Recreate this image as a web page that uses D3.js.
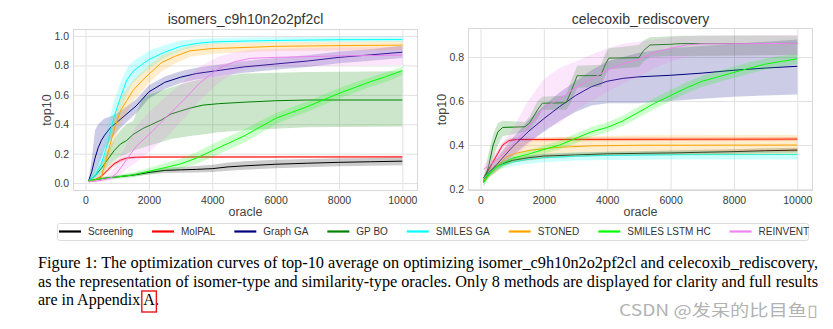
<!DOCTYPE html>
<html>
<head>
<meta charset="utf-8">
<script src="https://cdn.jsdelivr.net/npm/d3@7"></script>
<style>
  body { margin: 0; background: #fff; }
  svg { display: block; }
</style>
</head>
<body>
<svg id="fig" width="833" height="329"></svg>
<script>
// methods in plotting / legend order
var methods = ["Screening", "MolPAL", "Graph GA", "GP BO", "SMILES GA", "STONED", "SMILES LSTM HC", "REINVENT"]
var colors = ["black", "red", "navy", "green", "cyan", "orange", "lime", "violet"]

var oracleTicks = [0, 2000, 4000, 6000, 8000, 10000]
var isoTicks = [0.0, 0.2, 0.4, 0.6, 0.8, 1.0]
var celTicks = [0.2, 0.4, 0.6, 0.8]

// rows: [oracle calls, mean top10, lower, upper]
var isoScreening = [[100,.016,.010,.022],[500,.030,.022,.038],[1000,.042,.034,.050],[1500,.054,.044,.064],[2000,.072,.058,.086],[2500,.086,.068,.104],[3000,.090,.070,.110],[3500,.093,.072,.116],[4000,.098,.076,.124],[4500,.110,.084,.140],[5000,.117,.090,.148],[6000,.128,.100,.158],[7000,.135,.108,.164],[8000,.141,.114,.168],[9000,.145,.118,.171],[10000,.149,.122,.174]]
var isoMolpal = [[100,.016,.012,.020],[300,.022,.016,.028],[500,.045,.035,.056],[700,.090,.074,.106],[900,.130,.114,.146],[1100,.155,.141,.168],[1300,.170,.160,.180],[1600,.176,.168,.184],[2000,.177,.170,.185],[10000,.178,.171,.186]]
var isoGraphGA = [[100,.016,.010,.022],[200,.080,.040,.170],[300,.170,.080,.360],[400,.240,.120,.400],[500,.290,.170,.420],[600,.325,.230,.440],[800,.380,.300,.455],[1000,.415,.350,.475],[1300,.470,.415,.520],[1600,.525,.475,.570],[2000,.620,.575,.665],[2500,.685,.640,.725],[3000,.720,.680,.760],[3500,.745,.705,.785],[4000,.760,.720,.800],[5000,.790,.750,.830],[6000,.810,.770,.850],[7000,.830,.790,.870],[8000,.855,.815,.895],[9000,.872,.832,.910],[10000,.890,.850,.935]]
var isoGPBO = [[100,.016,.010,.022],[300,.050,.030,.080],[500,.100,.060,.150],[700,.160,.110,.220],[900,.220,.150,.300],[1100,.265,.180,.360],[1300,.290,.200,.400],[1500,.330,.220,.420],[1800,.370,.240,.580],[2100,.400,.260,.610],[2400,.430,.280,.630],[2700,.470,.300,.650],[3000,.490,.310,.670],[3300,.510,.320,.690],[3700,.530,.330,.710],[4200,.540,.345,.725],[5000,.550,.360,.745],[6000,.560,.370,.750],[7000,.565,.380,.755],[10000,.565,.385,.760]]
var isoSmilesGA = [[100,.016,.010,.022],[300,.050,.030,.100],[500,.130,.080,.220],[700,.270,.180,.380],[900,.450,.340,.560],[1100,.580,.480,.680],[1300,.700,.600,.780],[1500,.760,.680,.830],[1800,.810,.740,.870],[2000,.840,.780,.900],[2500,.890,.850,.940],[3000,.930,.900,.970],[3500,.950,.930,.980],[4000,.960,.945,.985],[5000,.966,.952,.990],[6000,.970,.956,.993],[8000,.975,.960,.995],[10000,.976,.962,.996]]
var isoStoned = [[100,.016,.010,.022],[300,.020,.012,.030],[500,.040,.025,.060],[700,.200,.130,.280],[900,.360,.280,.450],[1100,.490,.400,.570],[1300,.560,.480,.640],[1500,.630,.560,.700],[1800,.700,.630,.760],[2000,.740,.680,.800],[2400,.820,.760,.870],[2800,.860,.810,.900],[3300,.900,.860,.935],[4000,.915,.880,.950],[5000,.922,.890,.955],[6000,.930,.898,.960],[8000,.935,.902,.962],[10000,.938,.905,.965]]
var isoLSTM = [[100,.016,.010,.022],[500,.030,.020,.042],[1000,.042,.030,.056],[1500,.055,.040,.072],[2000,.080,.060,.102],[2500,.105,.080,.135],[3000,.130,.100,.165],[3500,.170,.130,.210],[4000,.220,.175,.265],[4500,.270,.225,.315],[5000,.320,.275,.365],[5500,.380,.335,.420],[6000,.440,.400,.475],[6500,.480,.445,.515],[7000,.520,.485,.555],[7500,.565,.530,.600],[8000,.610,.575,.645],[8500,.650,.615,.685],[9000,.690,.655,.720],[9500,.725,.690,.755],[10000,.765,.735,.790]]
var isoReinvent = [[100,.008,.004,.014],[500,.018,.008,.032],[800,.035,.018,.070],[1000,.070,.035,.140],[1300,.160,.095,.270],[1600,.250,.140,.390],[2100,.350,.230,.500],[2600,.460,.320,.600],[3100,.565,.440,.690],[3600,.680,.560,.790],[4200,.780,.680,.860],[4700,.825,.750,.890],[5200,.848,.780,.905],[6000,.855,.790,.912],[7000,.860,.795,.918],[8000,.865,.800,.922],[10000,.870,.805,.925]]

var celScreening = [[100,.240,.232,.248],[300,.275,.265,.285],[500,.305,.295,.315],[1000,.330,.320,.340],[1500,.342,.332,.352],[2000,.350,.340,.360],[3000,.355,.345,.365],[4000,.360,.350,.370],[5000,.362,.352,.372],[6000,.364,.354,.375],[7000,.367,.357,.378],[8000,.370,.360,.381],[9000,.374,.364,.385],[10000,.377,.367,.388]]
var celMolpal = [[100,.250,.240,.260],[300,.300,.288,.312],[500,.350,.338,.362],[700,.400,.390,.412],[900,.420,.412,.430],[1100,.425,.417,.434],[10000,.427,.419,.436]]
var celGraphGA = [[100,.250,.240,.260],[500,.310,.280,.340],[1000,.390,.350,.430],[1500,.460,.410,.510],[2000,.520,.460,.580],[2500,.575,.510,.640],[3000,.625,.550,.690],[3500,.665,.580,.740],[4000,.690,.590,.780],[4500,.703,.590,.800],[5000,.710,.590,.820],[6000,.717,.600,.840],[7000,.727,.610,.850],[8000,.740,.620,.860],[9000,.750,.625,.870],[10000,.758,.630,.880]]
var celGPBO = [[100,.230,.210,.250],[250,.300,.260,.360],[400,.400,.340,.450],[550,.460,.400,.500],[700,.480,.440,.510],[1400,.483,.460,.505],[1550,.500,.470,.530],[1800,.560,.520,.600],[1950,.590,.560,.620],[2700,.592,.560,.625],[2850,.640,.590,.690],[3050,.715,.660,.760],[3800,.716,.665,.765],[3950,.770,.720,.820],[4050,.795,.745,.840],[5000,.797,.755,.855],[5150,.830,.780,.875],[5350,.855,.800,.890],[6000,.858,.805,.895],[6300,.861,.805,.897],[10000,.862,.810,.898]]
var celSmilesGA = [[100,.250,.240,.260],[300,.275,.262,.288],[500,.300,.285,.315],[1000,.322,.305,.340],[1500,.335,.315,.352],[2000,.342,.322,.360],[3000,.350,.330,.368],[4000,.353,.332,.370],[6000,.356,.334,.372],[10000,.357,.334,.372]]
var celStoned = [[100,.240,.230,.250],[300,.270,.255,.290],[500,.300,.275,.330],[800,.345,.305,.390],[1100,.362,.320,.410],[1600,.377,.330,.425],[2500,.390,.345,.435],[3500,.396,.350,.440],[5000,.399,.354,.445],[10000,.400,.355,.446]]
var celLSTM = [[100,.230,.215,.245],[300,.270,.255,.285],[500,.300,.285,.315],[1000,.340,.325,.355],[1500,.358,.342,.374],[2000,.380,.362,.398],[2500,.400,.380,.420],[3000,.430,.408,.452],[3500,.460,.438,.482],[4000,.480,.458,.504],[4500,.510,.486,.534],[5000,.550,.525,.575],[5500,.590,.565,.615],[6000,.625,.600,.650],[6500,.660,.635,.685],[7000,.690,.665,.715],[7500,.710,.685,.737],[8000,.730,.705,.757],[8500,.750,.725,.777],[9000,.768,.743,.793],[9500,.780,.756,.806],[10000,.792,.768,.815]]
var celReinvent = [[100,.290,.270,.310],[500,.330,.300,.370],[1000,.400,.340,.470],[1500,.480,.400,.600],[2000,.570,.470,.700],[2500,.610,.500,.750],[3000,.660,.560,.780],[3500,.700,.600,.810],[4000,.740,.640,.840],[4500,.770,.680,.860],[5000,.790,.710,.870],[5500,.820,.750,.880],[6000,.840,.780,.890],[6500,.855,.800,.895],[7000,.860,.805,.898],[10000,.862,.810,.900]]

var captionLines = [
  "Figure 1: The optimization curves of top-10 average on optimizing isomer_c9h10n2o2pf2cl and celecoxib_rediscovery,",
  "as the representation of isomer-type and similarity-type oracles. Only 8 methods are displayed for clarity and full results"
]

var sans = "'Liberation Sans', Arial, Helvetica, sans-serif"
var svg = d3.select("#fig")

var panels = [
  {title: "isomers_c9h10n2o2pf2cl", series: [isoScreening, isoMolpal, isoGraphGA, isoGPBO, isoSmilesGA, isoStoned, isoLSTM, isoReinvent],
   left: 73, top: 29, yDomain: [-0.054, 1.048], yTicks: isoTicks},
  {title: "celecoxib_rediscovery", series: [celScreening, celMolpal, celGraphGA, celGPBO, celSmilesGA, celStoned, celLSTM, celReinvent],
   left: 468, top: 28, yDomain: [0.191, 0.932], yTicks: celTicks}
]

panels.forEach(drawPanel)
drawLegend()
drawCaption()

function drawPanel(p){
  var width = 345, bottom = 191
  var x = d3.scaleLinear().domain([-395, 10495]).range([p.left, p.left + width])
  var y = d3.scaleLinear().domain(p.yDomain).range([bottom, p.top])
  var g = svg.append("g")

  // grid + tick labels
  var xAxis = g.append("g")
    .attr("transform", "translate(0," + bottom + ")")
    .call(d3.axisBottom(x).tickValues(oracleTicks).tickSize(-(bottom - p.top)).tickPadding(5.5).tickFormat(d3.format("d")))
  var yAxis = g.append("g")
    .attr("transform", "translate(" + p.left + ",0)")
    .call(d3.axisLeft(y).tickValues(p.yTicks).tickSize(-width).tickPadding(4).tickFormat(d3.format(".1f")))
  ;[xAxis, yAxis].forEach(function(a){
    a.select(".domain").remove()
    a.selectAll(".tick line").attr("stroke", "#e2e2e2").attr("stroke-width", 1)
    a.selectAll(".tick text").attr("fill", "#3a3a3a").style("font-family", sans).style("font-size", "10.5px")
  })

  g.append("rect")
    .attr("x", p.left + 0.5).attr("y", p.top + 0.5)
    .attr("width", width - 1).attr("height", bottom - p.top - 1)
    .attr("fill", "none").attr("stroke", "#d8d8d8")

  var plot = g.append("g")
  var area = d3.area().x(d => x(d[0])).y0(d => y(d[2])).y1(d => y(d[3]))
  var line = d3.line().x(d => x(d[0])).y(d => y(d[1]))

  p.series.forEach(function(s, i){
    plot.append("path").attr("d", area(s))
      .attr("fill", colors[i]).attr("fill-opacity", 0.2)
    plot.append("path").attr("d", line(s))
      .attr("fill", "none").attr("stroke", colors[i]).attr("stroke-width", 1)
  })

  var cx = p.left + width / 2
  g.append("text").attr("x", cx).attr("y", 24)
    .attr("text-anchor", "middle").attr("fill", "#333")
    .style("font-family", sans).style("font-size", "14px")
    .text(p.title)
  g.append("text").attr("x", cx).attr("y", 216)
    .attr("text-anchor", "middle").attr("fill", "#444")
    .style("font-family", sans).style("font-size", "12.5px")
    .text("oracle")
  g.append("text")
    .attr("transform", "translate(" + (p.left - 22) + "," + ((p.top + bottom) / 2) + ") rotate(-90)")
    .attr("text-anchor", "middle").attr("fill", "#444")
    .style("font-family", sans).style("font-size", "12.5px")
    .text("top10")
}

function drawLegend(){
  var lg = svg.append("g")
  lg.append("rect")
    .attr("x", 57.5).attr("y", 223.5).attr("width", 751).attr("height", 17).attr("rx", 2)
    .attr("fill", "#fff").attr("stroke", "#dcdcdc")
  var cur = 59, ly = 231.5
  methods.forEach(function(m, i){
    lg.append("line")
      .attr("x1", cur).attr("x2", cur + 22).attr("y1", ly).attr("y2", ly)
      .attr("stroke", colors[i]).attr("stroke-width", 2.2)
    var t = lg.append("text")
      .attr("x", cur + 29).attr("y", ly + 3.6)
      .attr("fill", "#333")
      .style("font-family", sans).style("font-size", "10px")
      .text(m)
    cur = cur + 29 + t.node().getComputedTextLength() + 19
  })
}

function drawCaption(){
  var serif = "'Liberation Serif', 'Times New Roman', serif"
  var cg = svg.append("g").style("font-family", serif).style("font-size", "16px").attr("fill", "#000")
  captionLines.forEach(function(s, i){
    cg.append("text").attr("x", 38).attr("y", 268 + i * 18.5)
      .attr("textLength", 780).attr("lengthAdjust", "spacingAndGlyphs")
      .text(s)
  })
  var last = cg.append("text").attr("x", 38).attr("y", 305)
  last.append("tspan").text("are in Appendix ")
  last.append("tspan").text("A")
  last.append("tspan").text(".")

  var node = last.node()
  var ax = node.getStartPositionOfChar(16).x
  var aw = node.getSubStringLength(16, 1)
  cg.append("rect")
    .attr("x", ax - 1.5).attr("y", 291)
    .attr("width", aw + 3).attr("height", 21)
    .attr("fill", "none").attr("stroke", "#e8141b").attr("stroke-width", 1.4)

  svg.append("text")
    .attr("x", 619).attr("y", 316)
    .attr("textLength", 199).attr("lengthAdjust", "spacingAndGlyphs")
    .attr("fill", "#b2b2b2")
    .style("font-family", "'Noto Sans CJK SC', 'Noto Sans', sans-serif").style("font-size", "15.5px")
    .text("CSDN @发呆的比目鱼\u25AF")
}
</script>
</body>
</html>
